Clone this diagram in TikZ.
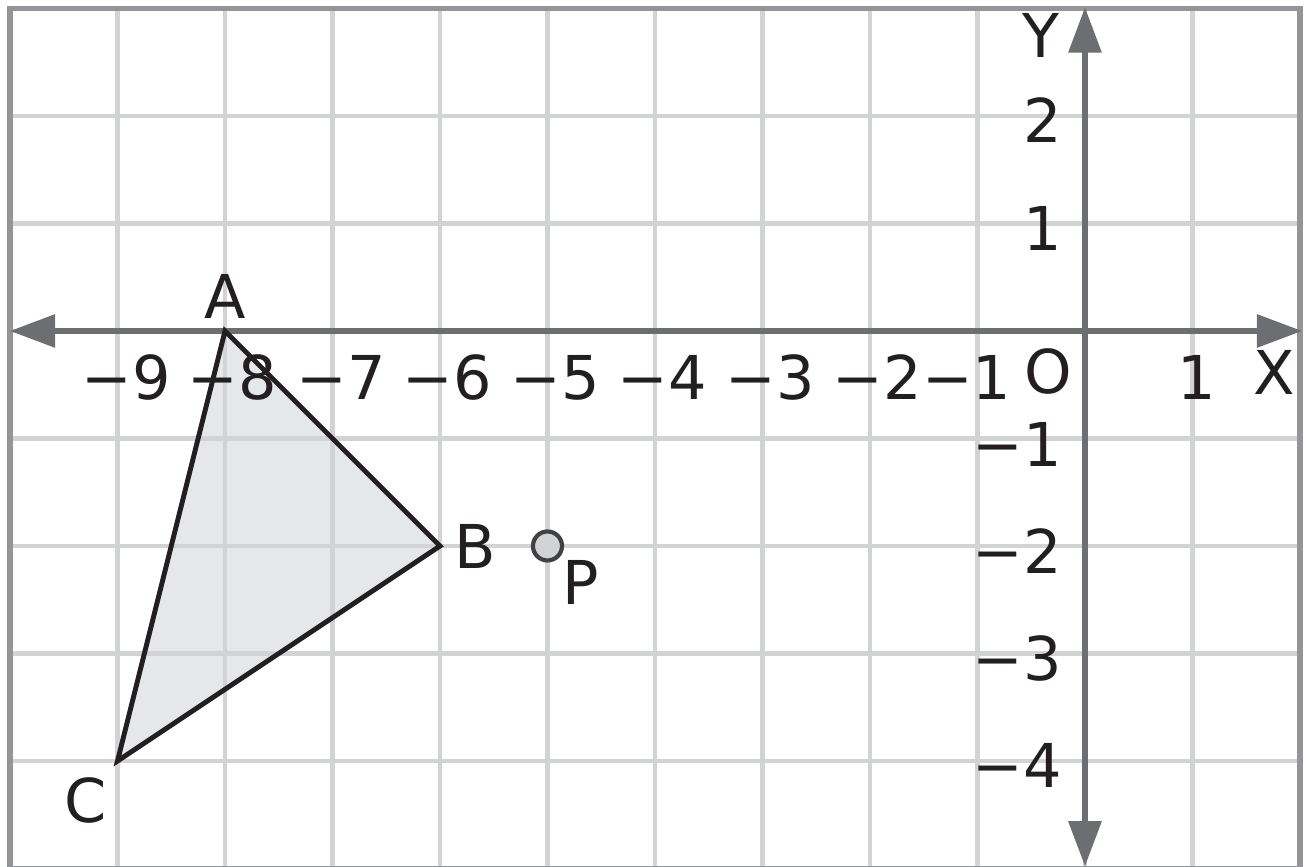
\documentclass[tikz,border=0pt]{standalone}
\usepackage{fontspec}
\setmainfont{DejaVu Sans}
\usepackage{xcolor}
\usetikzlibrary{arrows.meta}
\definecolor{gridgray}{HTML}{D1D3D4}
\definecolor{framegray}{HTML}{939598}
\definecolor{axisgray}{HTML}{6D6E71}
\definecolor{trifill}{HTML}{E6E7E8}
\definecolor{ptdraw}{HTML}{414042}
\definecolor{txtblack}{HTML}{231F20}

\begin{document}
\begin{tikzpicture}[
  font=\fontsize{16}{19}\selectfont,
  gridline/.style={draw=gridgray, line width=1.3pt},
  frame/.style={draw=framegray, line width=1.35pt},
  axis/.style={draw=axisgray, line width=1.4pt,
               {Triangle[length=4.2mm, width=3mm]}-{Triangle[length=4.2mm, width=3mm]}},
  tri/.style={draw=txtblack, line width=1.3pt, line join=miter},
  lab/.style={inner sep=0pt, text=txtblack},
  xlab/.style={lab, anchor=base},
  ylab/.style={lab, anchor=base east},
  pt/.style={circle, draw=ptdraw, fill=gridgray, line width=1.1pt,
             minimum size=2.7mm, inner sep=0pt}
]
\useasboundingbox (-10.093,-4.986) rectangle (2.056,3.079);
% points
\coordinate (A) at (-8,0);
\coordinate (B) at (-6,-2);
\coordinate (C) at (-9,-4);
\coordinate (xl) at (-10,0);
\coordinate (xr) at (2.02,0);
\coordinate (yt) at (0,3.01);
\coordinate (yb) at (0,-4.98);
% triangle fill, grid and frame
\fill[trifill] (A) -- (B) -- (C) -- cycle;
\draw[gridline] (-10,-5) grid (2,3);
\draw[frame] (-10,-5) rectangle (2,3);
% axes
\draw[axis] (xl) -- (xr);
\draw[axis] (yb) -- (yt);
% triangle ABC and point P
\draw[tri] (A) -- (B) -- (C) -- cycle;
\node[pt] (P) at (-5,-2) {};
% vertex labels
\node[lab] (labA) at (-8,0.32) {A};
\node[lab] (labB) at (-5.67,-2) {B};
\node[lab] (labC) at (-9.3,-4.37) {C};
\node[lab] (labP) at (-4.69,-2.34) {P};
% axis names
\node[xlab] (labX) at (1.76,-0.595) {X};
\node[lab] (labY) at (-0.41,2.75) {Y};
\node[xlab] (labO) at (-0.34,-0.58) {O};
% x ticks
\node[xlab] (xm9) at (-8.92,-0.64) {−9};
\node[xlab] (xm8) at (-7.93,-0.64) {−8};
\node[xlab] (xm7) at (-6.92,-0.64) {−7};
\node[xlab] (xm6) at (-5.93,-0.64) {−6};
\node[xlab] (xm5) at (-4.93,-0.64) {−5};
\node[xlab] (xm4) at (-3.93,-0.64) {−4};
\node[xlab] (xm3) at (-2.93,-0.64) {−3};
\node[xlab] (xm2) at (-1.93,-0.64) {−2};
\node[xlab] (xm1) at (-1.10,-0.64) {−1};
\node[xlab] (xp1) at (1.04,-0.64) {1};
% y ticks
\node[ylab] (yp2) at (-0.21,1.75) {2};
\node[ylab] (yp1) at (-0.21,0.75) {1};
\node[ylab] (ym1) at (-0.21,-1.26) {−1};
\node[ylab] (ym2) at (-0.21,-2.26) {−2};
\node[ylab] (ym3) at (-0.21,-3.25) {−3};
\node[ylab] (ym4) at (-0.21,-4.25) {−4};
\end{tikzpicture}
\end{document}
